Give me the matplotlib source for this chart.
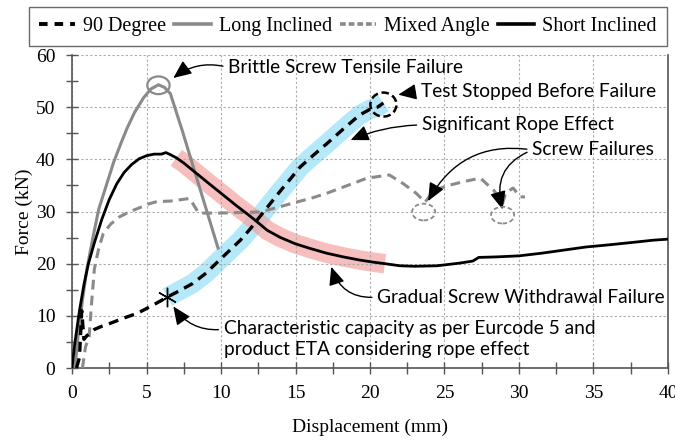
import matplotlib
matplotlib.use('Agg')
import matplotlib.pyplot as plt
from matplotlib.patches import Ellipse
from matplotlib.lines import Line2D
from matplotlib.ticker import MultipleLocator
import numpy as np

# 90 Degree (black dashed)
deg90_x = [0.3, 0.5, 0.65, 0.8, 1.0, 1.5, 2.0, 2.6, 3.5, 4.4, 5.4, 6.4, 7.2, 8.1, 9.0, 9.9, 10.6, 11.3, 12.0,
           12.6, 13.3, 14.0, 14.7, 15.3, 16.2, 17.1, 18.2, 19.3, 20.0, 20.5, 20.9]
deg90_y = [0.0, 2.0, 11.0, 5.5, 6.2, 7.4, 8.0, 8.6, 9.6, 10.5, 12.0, 13.6, 14.8, 16.2, 18.2, 20.7, 22.6, 24.5, 26.8,
           29.0, 31.5, 34.0, 36.4, 38.5, 40.8, 43.0, 45.8, 48.5, 49.6, 50.0, 50.8]

# Long Inclined (gray solid)
long_x = [0.2, 0.4, 0.7, 1.0, 1.4, 1.8, 2.3, 2.8, 3.3, 3.7, 4.2, 4.8, 5.3, 5.8, 6.2, 6.6, 7.4, 8.2, 9.0, 9.8]
long_y = [0.0, 6.0, 13.0, 19.0, 25.0, 30.5, 35.0, 39.5, 43.2, 46.0, 49.0, 51.8, 53.5, 54.3, 53.8, 52.6, 45.5,
          38.0, 30.5, 23.0]

# Mixed Angle (gray dashed)
mixed_x = [0.7, 0.9, 1.15, 1.3, 1.5, 1.8, 2.1, 2.6, 3.2, 3.9, 4.6, 5.2, 5.7, 6.6, 7.9, 8.5, 9.9, 11.2, 12.6, 13.7,
           14.8, 16.0, 17.1, 18.5, 19.8, 21.3, 22.2, 23.1, 23.7, 24.3, 25.4, 26.4, 27.4, 28.3, 28.9, 29.1, 29.6,
           30.1, 30.4]
mixed_y = [0.0, 4.0, 6.0, 12.0, 19.0, 23.0, 25.8, 27.6, 29.0, 30.0, 30.8, 31.5, 31.9, 32.0, 32.5, 29.7, 29.7, 29.8,
           29.9, 30.7, 31.6, 32.5, 33.5, 35.0, 36.4, 37.0, 35.4, 33.5, 31.8, 34.1, 35.1, 35.8, 36.4, 34.1, 31.6,
           33.5, 34.5, 32.8, 32.8]

# Short Inclined (black solid)
short_x = [0.0, 0.2, 0.5, 0.8, 1.1, 1.5, 2.0, 2.5, 3.0, 3.5, 4.0, 4.5, 5.0, 5.5, 6.0, 6.3, 6.6, 7.0, 7.5, 8.1,
           9.0, 10.0, 11.0, 12.0, 12.6, 13.1, 14.0, 15.0, 16.0, 17.1, 18.2, 19.3, 20.2, 21.0, 22.0, 23.0, 24.5,
           26.0, 26.9, 27.3, 28.5, 30.0, 31.5, 33.0, 34.5, 36.0, 37.7, 39.0, 40.0]
short_y = [0.0, 5.0, 11.0, 16.0, 20.0, 24.0, 28.5, 32.3, 35.3, 37.5, 39.0, 40.1, 40.7, 41.0, 41.0, 41.3, 40.9,
           40.3, 39.3, 37.9, 35.8, 33.5, 31.2, 29.0, 27.6, 26.4, 25.0, 23.8, 22.9, 22.0, 21.3, 20.7, 20.3, 20.0,
           19.6, 19.5, 19.6, 20.1, 20.5, 21.2, 21.3, 21.5, 22.0, 22.6, 23.2, 23.6, 24.1, 24.5, 24.7]

# characteristic capacity point
char_x, char_y = 6.4, 13.6

GRAY = '#8a8a8a'
serif = 'Liberation Serif'
sans = 'Lato'

fig = plt.figure(figsize=(6.75, 4.43), dpi=100)
ax = fig.add_axes([0.1067, 0.1693, 0.8829, 0.7065])

# highlight bands built from the series themselves
d90x, d90y = np.array(deg90_x), np.array(deg90_y)
m = d90x >= char_x
ax.plot(d90x[m], d90y[m], color='#a8e6f8', lw=14, alpha=0.85, solid_capstyle='butt',
        solid_joinstyle='round', zorder=1)
sx, sy = np.array(short_x), np.array(short_y)
m = (sx >= 7.0) & (sx <= 21.0)
ax.plot(sx[m], sy[m], color='#f5a3a3', lw=14, alpha=0.7, solid_capstyle='butt',
        solid_joinstyle='round', zorder=1)

ax.plot(long_x, long_y, color=GRAY, lw=2.2, zorder=3)
ax.plot(mixed_x, mixed_y, color=GRAY, lw=2.2, ls=(0, (3.2, 2)), zorder=3)
ax.plot(short_x, short_y, color='black', lw=2.0, zorder=4)
ax.plot(deg90_x, deg90_y, color='black', lw=2.4, ls=(0, (3, 2)), zorder=5)
ax.plot([char_x], [char_y], marker=(6, 2, 0), ms=14, mec='black', mew=1.0, ls='none', zorder=6)

# failure markers
ax.add_patch(Ellipse((5.8, 54.2), 1.5, 3.4, fill=False, ec=GRAY, lw=1.6, zorder=6))
ax.add_patch(Ellipse((20.9, 50.5), 1.75, 4.6, fill=False, ec='black', lw=1.8, ls=(0, (3, 1.5)), zorder=6))
ax.add_patch(Ellipse((23.6, 29.9), 1.55, 3.2, fill=False, ec=GRAY, lw=1.3, ls=(0, (2.5, 1.5)), zorder=6))
ax.add_patch(Ellipse((28.9, 29.3), 1.55, 3.2, fill=False, ec=GRAY, lw=1.3, ls=(0, (2.5, 1.5)), zorder=6))

ax.set_xlim(0, 40)
ax.set_ylim(0, 60)
ax.xaxis.set_major_locator(MultipleLocator(5))
ax.xaxis.set_minor_locator(MultipleLocator(2.5))
ax.yaxis.set_major_locator(MultipleLocator(10))
ax.yaxis.set_minor_locator(MultipleLocator(5))
ax.grid(True, which='major', color='#aaaaaa', ls=(0, (2, 2)), lw=0.8)
ax.tick_params(which='both', direction='inout', length=8, width=1, color='#555555',
               labelsize=14, pad=8)
for lab in ax.get_xticklabels() + ax.get_yticklabels():
    lab.set_fontfamily(serif)
for sp in ax.spines.values():
    sp.set_color('#555555')
    sp.set_linewidth(1.2)
ax.spines['top'].set_visible(False)

ax.set_xlabel('Displacement (mm)', fontsize=14, family=serif, labelpad=12)
ax.set_ylabel('Force (kN)', fontsize=14, family=serif, labelpad=2)

ann = dict(fontsize=13.8, family=sans, va='center', ha='left')
arr = dict(arrowstyle='-|>,head_length=0.8,head_width=0.35', color='black', lw=1.0,
           shrinkA=2, shrinkB=0, relpos=(0, 0.5))

ax.annotate('Brittle Screw Tensile Failure', xy=(6.8, 55.6), xytext=(10.5, 57.6),
            arrowprops=dict(arr, connectionstyle='arc3,rad=0.25'), **ann)
ax.annotate('Test Stopped Before Failure', xy=(21.9, 52.4), xytext=(23.4, 53.1),
            arrowprops=dict(arr, connectionstyle='arc3,rad=0'), **ann)
ax.annotate('Significant Rope Effect', xy=(18.7, 43.7), xytext=(23.5, 46.6),
            arrowprops=dict(arr, connectionstyle='arc3,rad=0.1'), **ann)
ax.annotate('Screw Failures', xy=(23.9, 32.0), xytext=(30.9, 41.8),
            arrowprops=dict(arr, connectionstyle='arc3,rad=0.35'), **ann)
ax.annotate('Screw Failures', xy=(28.9, 30.4), xytext=(30.9, 41.8), color='none',
            arrowprops=dict(arr, connectionstyle='arc3,rad=0.45'), **ann)
ax.annotate('Gradual Screw Withdrawal Failure', xy=(17.4, 19.4), xytext=(20.5, 13.6),
            arrowprops=dict(arr, connectionstyle='arc3,rad=-0.4'), **ann)
ax.annotate('Characteristic capacity as per Eurcode 5 and\nproduct ETA considering rope effect',
            xy=(6.8, 11.8), xytext=(10.2, 5.6), linespacing=1.3,
            arrowprops=dict(arr, connectionstyle='arc3,rad=-0.3', relpos=(0, 0.75)), **ann)

handles = [Line2D([], [], color='black', lw=2.8, ls=(0, (2.2, 1.8))),
           Line2D([], [], color=GRAY, lw=2.6),
           Line2D([], [], color=GRAY, lw=2.6, ls=(0, (1.6, 0.8))),
           Line2D([], [], color='black', lw=2.6)]
labels = ['90 Degree', 'Long Inclined', 'Mixed Angle', 'Short Inclined']
leg = fig.legend(handles, labels, loc='upper right', bbox_to_anchor=(0.988, 0.984), ncol=4,
                 prop={'family': serif, 'size': 14.5}, frameon=True, fancybox=False,
                 edgecolor='#444444', handlelength=1.8, handletextpad=0.4, columnspacing=0.4,
                 borderpad=0.5, borderaxespad=0)
leg.get_frame().set_linewidth(1.0)

fig.savefig('out.png', dpi=100)
